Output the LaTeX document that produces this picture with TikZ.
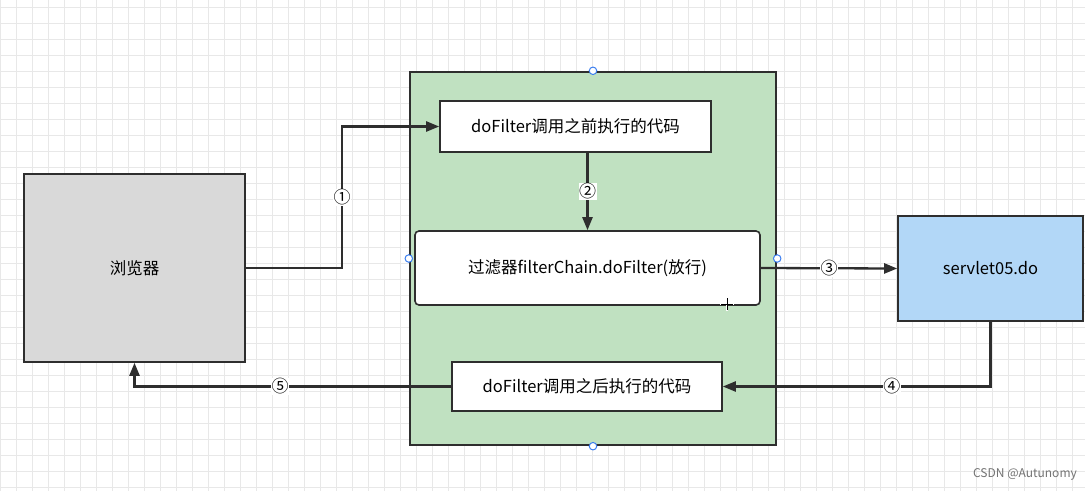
\documentclass[tikz,border=0pt]{standalone}
\usepackage{fontspec}
\setmainfont{Noto Sans CJK SC}
\usetikzlibrary{arrows.meta}
\definecolor{gridgray}{HTML}{E8E8E8}
\definecolor{boxgreen}{HTML}{C0E1C1}
\definecolor{boxblue}{HTML}{B2D7F7}
\definecolor{boxgray}{HTML}{D9D9D9}
\definecolor{linedark}{HTML}{2E2E2E}
\definecolor{handleblue}{HTML}{3C7FF0}
\begin{document}
\begin{tikzpicture}[x=1pt,y=-1pt,
  every node/.style={font=\fontsize{16.5}{19}\selectfont},
  box/.style={draw=linedark,line width=1.6pt,fill=white,inner sep=0pt},
  link/.style={draw=linedark,line width=2.3pt,-{Triangle[length=13pt,width=10pt]}},
  num/.style={fill=white,inner sep=0.5pt,font=\fontsize{17}{17}\selectfont},
  handle/.style={draw=handleblue,fill=white,line width=1pt,circle,inner sep=0pt,minimum size=7.5pt}]
\useasboundingbox (0,0) rectangle (1085,491);
\fill[white] (0,0) rectangle (1085,491);
%grid
\foreach \gx in {0,16,...,1072} \draw[gridgray,line width=0.8pt] (\gx+0.5,0) -- (\gx+0.5,491);
\foreach \gy in {0,16,...,480} \draw[gridgray,line width=0.8pt] (0,\gy+7) -- (1085,\gy+7);
%browser
\node[box,fill=boxgray,minimum width=221,minimum height=188] (browser) at (134.5,268) {浏览器};
%filter
\node[draw=linedark,line width=2.4pt,fill=boxgreen,minimum width=366,minimum height=373] (filter) at (593,258.5) {};
\node[box,minimum width=271,minimum height=51] (before) at (575.5,126.5) {doFilter调用之前执行的代码};
\node[box,rounded corners=4pt,minimum width=345,minimum height=74] (chain) at (587.5,268) {过滤器filterChain.doFilter(放行)};
\node[box,minimum width=270,minimum height=49] (after) at (587,386.5) {doFilter调用之后执行的代码};
\foreach \side in {north,south,west,east} \node[handle] (h-\side) at (filter.\side) {};
%servlet
\node[box,fill=boxblue,minimum width=185,minimum height=105] (servlet) at (990.5,268.5) {servlet05.do};
%arrows
\coordinate (bend1) at (342,268);
\draw[link] (browser.east) -- (bend1) |- node[num,pos=0.25]{①} (before.west);
\draw[link] (before.south -| chain.north) -- node[num]{②} (chain.north);
\draw[link] (chain.east) -- node[num]{③} (servlet.west);
\draw[link] (servlet.south) |- node[num,pos=0.684]{④} (after.east);
\draw[link] (after.west) -| node[num,pos=0.27]{⑤} (browser.south);
%cursor
\coordinate (cursor) at (727,304);
\draw[white,line width=2.4pt] ([xshift=-7]cursor) -- ([xshift=7]cursor) ([yshift=-7]cursor) -- ([yshift=7]cursor);
\draw[black,line width=1pt] ([xshift=-6]cursor) -- ([xshift=6]cursor) ([yshift=-6]cursor) -- ([yshift=6]cursor);
%watermark
\node[text=black!55,font=\fontsize{12}{13}\selectfont] (mark) at (1025,474) {CSDN @Autunomy};
\end{tikzpicture}
\end{document}
